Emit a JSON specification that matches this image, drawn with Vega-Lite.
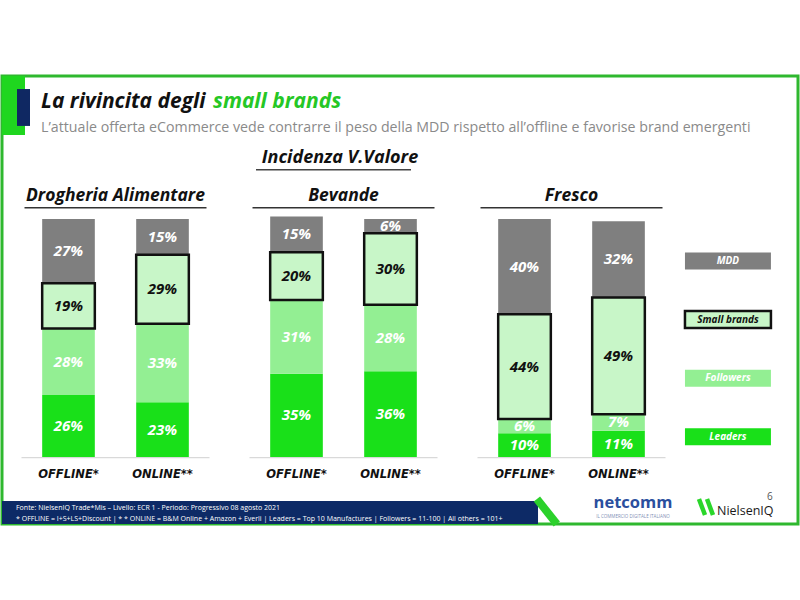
{
  "$schema": "https://vega.github.io/schema/vega-lite/v6.json",
  "width": 796,
  "height": 448,
  "autosize": {"type": "none"},
  "padding": {"left": 2, "top": 76, "right": 2, "bottom": 76},
  "background": "white",
  "config": {
    "view": {"stroke": "#2eb82e", "strokeWidth": 3},
    "font": "Open Sans",
    "axis": {"disable": true}
  },
  "datasets": {
    "quote": [
      {"categoria": "Drogheria Alimentare", "canale": "OFFLINE*", "segmento": "Leaders", "ord": 1, "quota": 0.26},
      {"categoria": "Drogheria Alimentare", "canale": "OFFLINE*", "segmento": "Followers", "ord": 2, "quota": 0.28},
      {"categoria": "Drogheria Alimentare", "canale": "OFFLINE*", "segmento": "Small brands", "ord": 3, "quota": 0.19},
      {"categoria": "Drogheria Alimentare", "canale": "OFFLINE*", "segmento": "MDD", "ord": 4, "quota": 0.27},
      {"categoria": "Drogheria Alimentare", "canale": "ONLINE**", "segmento": "Leaders", "ord": 1, "quota": 0.23},
      {"categoria": "Drogheria Alimentare", "canale": "ONLINE**", "segmento": "Followers", "ord": 2, "quota": 0.33},
      {"categoria": "Drogheria Alimentare", "canale": "ONLINE**", "segmento": "Small brands", "ord": 3, "quota": 0.29},
      {"categoria": "Drogheria Alimentare", "canale": "ONLINE**", "segmento": "MDD", "ord": 4, "quota": 0.15},
      {"categoria": "Bevande", "canale": "OFFLINE*", "segmento": "Leaders", "ord": 1, "quota": 0.35},
      {"categoria": "Bevande", "canale": "OFFLINE*", "segmento": "Followers", "ord": 2, "quota": 0.31},
      {"categoria": "Bevande", "canale": "OFFLINE*", "segmento": "Small brands", "ord": 3, "quota": 0.20},
      {"categoria": "Bevande", "canale": "OFFLINE*", "segmento": "MDD", "ord": 4, "quota": 0.15},
      {"categoria": "Bevande", "canale": "ONLINE**", "segmento": "Leaders", "ord": 1, "quota": 0.36},
      {"categoria": "Bevande", "canale": "ONLINE**", "segmento": "Followers", "ord": 2, "quota": 0.28},
      {"categoria": "Bevande", "canale": "ONLINE**", "segmento": "Small brands", "ord": 3, "quota": 0.30},
      {"categoria": "Bevande", "canale": "ONLINE**", "segmento": "MDD", "ord": 4, "quota": 0.06},
      {"categoria": "Fresco", "canale": "OFFLINE*", "segmento": "Leaders", "ord": 1, "quota": 0.10},
      {"categoria": "Fresco", "canale": "OFFLINE*", "segmento": "Followers", "ord": 2, "quota": 0.06},
      {"categoria": "Fresco", "canale": "OFFLINE*", "segmento": "Small brands", "ord": 3, "quota": 0.44},
      {"categoria": "Fresco", "canale": "OFFLINE*", "segmento": "MDD", "ord": 4, "quota": 0.40},
      {"categoria": "Fresco", "canale": "ONLINE**", "segmento": "Leaders", "ord": 1, "quota": 0.11},
      {"categoria": "Fresco", "canale": "ONLINE**", "segmento": "Followers", "ord": 2, "quota": 0.07},
      {"categoria": "Fresco", "canale": "ONLINE**", "segmento": "Small brands", "ord": 3, "quota": 0.49},
      {"categoria": "Fresco", "canale": "ONLINE**", "segmento": "MDD", "ord": 4, "quota": 0.32}
    ],
    "pannelli": [
      {"categoria": "Drogheria Alimentare"},
      {"categoria": "Bevande"},
      {"categoria": "Fresco"}
    ],
    "legenda": [
      {"segmento": "MDD"},
      {"segmento": "Small brands"},
      {"segmento": "Followers"},
      {"segmento": "Leaders"}
    ]
  },
  "resolve": {"scale": {"x": "independent", "y": "independent"}},
  "layer": [
    {
      "data": {"values": [{}]},
      "layer": [
        {
          "mark": {"type": "rect", "color": "#1fd61f"},
          "encoding": {
            "x": {"datum": 0, "type": "quantitative", "scale": {"domain": [0, 100], "nice": false, "zero": false}, "axis": null},
            "x2": {"datum": 2.89},
            "y": {"datum": 1.353, "type": "quantitative", "scale": {"domain": [-0.2815, 1.6008], "nice": false, "zero": false}, "axis": null},
            "y2": {"datum": 1.6008}
          }
        },
        {
          "mark": {"type": "rect", "color": "#0f2862"},
          "encoding": {
            "x": {"datum": 1.884, "type": "quantitative"},
            "x2": {"datum": 3.518},
            "y": {"datum": 1.391, "type": "quantitative"},
            "y2": {"datum": 1.546}
          }
        },
        {
          "mark": {"type": "text", "align": "left", "baseline": "middle", "fontSize": 21, "fontWeight": "bold", "fontStyle": "italic", "color": "#111111", "text": "La rivincita degli"},
          "encoding": {
            "x": {"datum": 4.9, "type": "quantitative"},
            "y": {"datum": 1.4916, "type": "quantitative"}
          }
        },
        {
          "mark": {"type": "text", "align": "left", "baseline": "middle", "fontSize": 21, "fontWeight": "bold", "fontStyle": "italic", "color": "#25c725", "text": "small brands"},
          "encoding": {
            "x": {"datum": 26.5, "type": "quantitative"},
            "y": {"datum": 1.4916, "type": "quantitative"}
          }
        },
        {
          "mark": {"type": "text", "align": "left", "baseline": "middle", "fontSize": 14.2, "color": "#8a8a8a", "text": "L’attuale offerta eCommerce vede contrarre il peso della MDD rispetto all’offline e favorise brand emergenti"},
          "encoding": {
            "x": {"datum": 4.9, "type": "quantitative"},
            "y": {"datum": 1.3824, "type": "quantitative"}
          }
        },
        {
          "mark": {"type": "text", "align": "center", "baseline": "middle", "fontSize": 18, "fontWeight": "bold", "fontStyle": "italic", "color": "#111111", "text": "Incidenza V.Valore"},
          "encoding": {
            "x": {"datum": 42.46, "type": "quantitative"},
            "y": {"datum": 1.2563, "type": "quantitative"}
          }
        },
        {
          "mark": {"type": "rect", "color": "#444444"},
          "encoding": {
            "x": {"datum": 31.91, "type": "quantitative"},
            "x2": {"datum": 51.38},
            "y": {"datum": 1.2038, "type": "quantitative"},
            "y2": {"datum": 1.2101}
          }
        },
        {
          "mark": {"type": "rect", "color": "#0d2a66"},
          "encoding": {
            "x": {"datum": 0, "type": "quantitative"},
            "x2": {"datum": 67.34},
            "y": {"datum": -0.2815, "type": "quantitative"},
            "y2": {"datum": -0.1849}
          }
        },
        {
          "mark": {"type": "rule", "strokeWidth": 8, "color": "#2bd12b"},
          "encoding": {
            "x": {"datum": 67.2, "type": "quantitative"},
            "x2": {"datum": 69.7},
            "y": {"datum": -0.1765, "type": "quantitative"},
            "y2": {"datum": -0.2815}
          }
        },
        {
          "mark": {"type": "text", "align": "left", "baseline": "middle", "fontSize": 7, "color": "#ffffff", "text": "Fonte: NielsenIQ Trade*Mis – Livello: ECR 1 - Periodo:  Progressivo 08 agosto 2021"},
          "encoding": {
            "x": {"datum": 1.76, "type": "quantitative"},
            "y": {"datum": -0.2143, "type": "quantitative"}
          }
        },
        {
          "mark": {"type": "text", "align": "left", "baseline": "middle", "fontSize": 7, "color": "#ffffff", "text": "* OFFLINE = I+S+LS+Discount | * * ONLINE = B&M Online + Amazon + Everli | Leaders = Top 10 Manufactures | Followers = 11-100 | All others = 101+"},
          "encoding": {
            "x": {"datum": 1.76, "type": "quantitative"},
            "y": {"datum": -0.2605, "type": "quantitative"}
          }
        },
        {
          "mark": {"type": "text", "align": "center", "baseline": "middle", "fontSize": 16.5, "fontWeight": "bold", "color": "#2b4f9e", "text": "netcomm"},
          "encoding": {
            "x": {"datum": 79.27, "type": "quantitative"},
            "y": {"datum": -0.1933, "type": "quantitative"}
          }
        },
        {
          "mark": {"type": "text", "align": "center", "baseline": "middle", "fontSize": 4.5, "color": "#7f8fb5", "text": "IL COMMERCIO DIGITALE ITALIANO"},
          "encoding": {
            "x": {"datum": 79.27, "type": "quantitative"},
            "y": {"datum": -0.2521, "type": "quantitative"}
          }
        },
        {
          "mark": {"type": "rule", "strokeWidth": 4.5, "color": "#2ad62a"},
          "encoding": {
            "x": {"datum": 87.56, "type": "quantitative"},
            "x2": {"datum": 88.32},
            "y": {"datum": -0.1765, "type": "quantitative"},
            "y2": {"datum": -0.2437}
          }
        },
        {
          "mark": {"type": "rule", "strokeWidth": 4.5, "color": "#2ad62a"},
          "encoding": {
            "x": {"datum": 88.57, "type": "quantitative"},
            "x2": {"datum": 89.32},
            "y": {"datum": -0.1765, "type": "quantitative"},
            "y2": {"datum": -0.2437}
          }
        },
        {
          "mark": {"type": "text", "align": "left", "baseline": "middle", "fontSize": 12.5, "color": "#1a1a1a", "text": "NielsenIQ"},
          "encoding": {
            "x": {"datum": 89.82, "type": "quantitative"},
            "y": {"datum": -0.2269, "type": "quantitative"}
          }
        },
        {
          "mark": {"type": "text", "align": "center", "baseline": "middle", "fontSize": 10, "color": "#555555", "text": "6"},
          "encoding": {
            "x": {"datum": 96.48, "type": "quantitative"},
            "y": {"datum": -0.168, "type": "quantitative"}
          }
        }
      ]
    },
    {
      "layer": [
        {
          "data": {"name": "pannelli"},
          "mark": {"type": "rect", "color": "#d9d9d9"},
          "encoding": {
            "x": {"field": "categoria", "type": "nominal", "scale": {"domain": ["Drogheria Alimentare", "Bevande", "Fresco"], "paddingInner": 0.1754, "paddingOuter": 0.3333, "align": 0.1283}, "axis": null},
            "y": {"datum": 0, "type": "quantitative", "scale": {"domain": [-0.2815, 1.6008], "nice": false, "zero": false}, "axis": null},
            "y2": {"datum": -0.0055}
          }
        },
        {
          "data": {"name": "quote"},
          "mark": {"type": "bar"},
          "encoding": {
            "x": {"field": "categoria", "type": "nominal", "axis": null},
            "xOffset": {"field": "canale", "type": "nominal", "scale": {"domain": ["OFFLINE*", "ONLINE**"], "paddingInner": 0.44, "paddingOuter": 0.22}},
            "y": {"field": "quota", "type": "quantitative", "stack": "zero", "axis": null},
            "order": {"field": "ord", "type": "quantitative"},
            "color": {
              "field": "segmento",
              "type": "nominal",
              "scale": {"domain": ["MDD", "Small brands", "Followers", "Leaders"], "range": ["#7f7f7f", "#c8f6c8", "#93ef93", "#19e019"]},
              "legend": null
            }
          }
        },
        {
          "data": {"name": "quote"},
          "mark": {"type": "bar", "fillOpacity": 0},
          "encoding": {
            "x": {"field": "categoria", "type": "nominal", "axis": null},
            "xOffset": {"field": "canale", "type": "nominal"},
            "y": {"field": "quota", "type": "quantitative", "stack": "zero", "axis": null},
            "order": {"field": "ord", "type": "quantitative"},
            "detail": {"field": "segmento", "type": "nominal"},
            "stroke": {"condition": {"test": "datum.segmento === 'Small brands'", "value": "#111111"}, "value": "transparent"},
            "strokeWidth": {"condition": {"test": "datum.segmento === 'Small brands'", "value": 2.5}, "value": 0}
          }
        },
        {
          "data": {"name": "quote"},
          "mark": {"type": "text", "fontSize": 15, "fontWeight": "bold", "fontStyle": "italic", "baseline": "middle", "align": "center"},
          "encoding": {
            "x": {"field": "categoria", "type": "nominal", "axis": null},
            "xOffset": {"field": "canale", "type": "nominal"},
            "y": {"field": "quota", "type": "quantitative", "stack": "zero", "bandPosition": 0.5, "axis": null},
            "order": {"field": "ord", "type": "quantitative"},
            "detail": {"field": "segmento", "type": "nominal"},
            "text": {"field": "quota", "type": "quantitative", "format": ".0%"},
            "color": {"condition": {"test": "datum.segmento === 'Small brands'", "value": "#111111"}, "value": "#ffffff"}
          }
        },
        {
          "data": {"name": "quote"},
          "transform": [{"filter": "datum.segmento === 'Leaders'"}],
          "mark": {"type": "text", "font": "DejaVu Sans", "fontSize": 11.5, "fontWeight": "bold", "fontStyle": "italic", "baseline": "middle", "align": "center", "color": "#111111"},
          "encoding": {
            "x": {"field": "categoria", "type": "nominal", "axis": null},
            "xOffset": {"field": "canale", "type": "nominal"},
            "y": {"datum": -0.0756, "type": "quantitative"},
            "text": {"field": "canale", "type": "nominal"}
          }
        },
        {
          "data": {"name": "pannelli"},
          "mark": {"type": "text", "fontSize": 17.5, "fontWeight": "bold", "fontStyle": "italic", "baseline": "middle", "align": "center", "color": "#111111"},
          "encoding": {
            "x": {"field": "categoria", "type": "nominal", "axis": null},
            "y": {"datum": 1.0966, "type": "quantitative"},
            "text": {"field": "categoria", "type": "nominal"}
          }
        },
        {
          "data": {"name": "pannelli"},
          "mark": {"type": "bar", "width": 182, "color": "#333333"},
          "encoding": {
            "x": {"field": "categoria", "type": "nominal", "axis": null},
            "y": {"datum": 1.0504, "type": "quantitative"},
            "y2": {"datum": 1.0441}
          }
        }
      ]
    },
    {
      "data": {"name": "legenda"},
      "layer": [
        {
          "mark": {"type": "rect"},
          "encoding": {
            "x": {"datum": 85.8, "type": "quantitative", "scale": {"domain": [0, 100], "nice": false, "zero": false}, "axis": null},
            "x2": {"datum": 96.6},
            "y": {"field": "segmento", "type": "nominal", "scale": {"domain": ["MDD", "Small brands", "Followers", "Leaders"], "range": [176.5, 369.3], "paddingInner": 0.71, "paddingOuter": 0}, "axis": null},
            "color": {"field": "segmento", "type": "nominal", "legend": null},
            "stroke": {"condition": {"test": "datum.segmento === 'Small brands'", "value": "#111111"}, "value": "transparent"},
            "strokeWidth": {"condition": {"test": "datum.segmento === 'Small brands'", "value": 2.5}, "value": 0}
          }
        },
        {
          "mark": {"type": "text", "fontSize": 10, "fontWeight": "bold", "fontStyle": "italic", "baseline": "middle", "align": "center"},
          "encoding": {
            "x": {"datum": 91.2, "type": "quantitative"},
            "y": {"field": "segmento", "type": "nominal"},
            "text": {"field": "segmento", "type": "nominal"},
            "color": {"condition": {"test": "datum.segmento === 'Small brands'", "value": "#111111"}, "value": "#ffffff"}
          }
        }
      ]
    }
  ]
}
